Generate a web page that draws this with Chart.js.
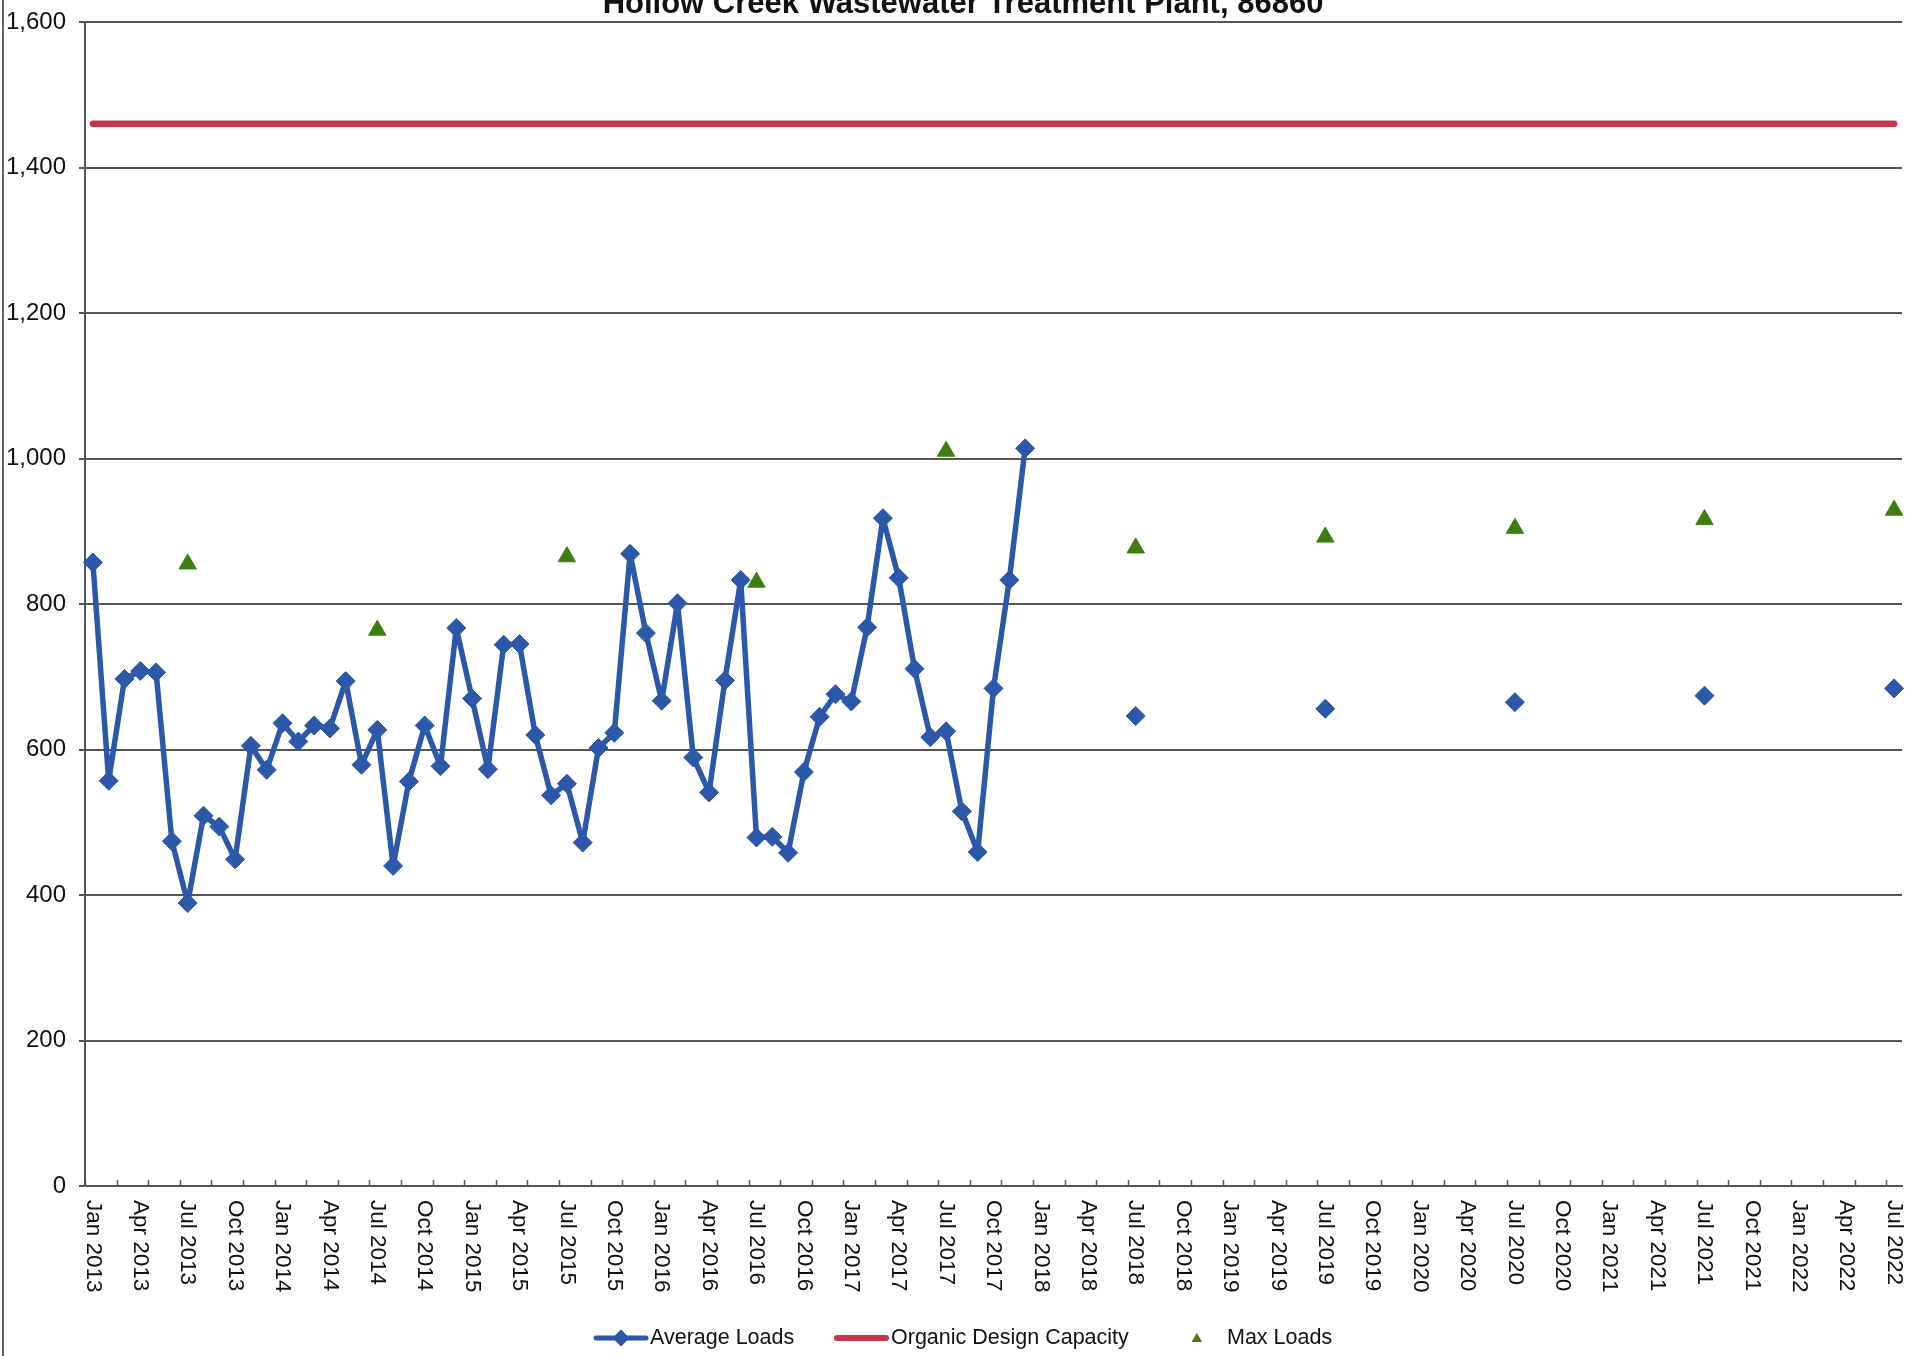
<!DOCTYPE html>
<html><head><meta charset="utf-8">
<script src="https://cdn.jsdelivr.net/npm/chart.js@4.4.0/dist/chart.umd.min.js"></script>
<style>html,body{margin:0;padding:0;background:#fff;overflow:hidden;} canvas{display:block;}</style>
</head><body>
<canvas id="c" width="1913" height="1356"></canvas>
<script>
const TITLE = 'Hollow Creek Wastewater Treatment Plant, 86860';
const MONTH_NAMES = ['Jan','Feb','Mar','Apr','May','Jun','Jul','Aug','Sep','Oct','Nov','Dec'];
const FIRST_YEAR = 2013, LAST_YEAR = 2022, LAST_MONTH_INDEX = 6;

// categories: every month Jan 2013 .. Jul 2022
const categories = [];
for (let y = FIRST_YEAR; y <= LAST_YEAR; y++) {
  for (let m = 0; m < 12; m++) {
    if (y === LAST_YEAR && m > LAST_MONTH_INDEX) break;
    categories.push(MONTH_NAMES[m] + ' ' + y);
  }
}

const tickLabels = [
  'Jan 2013','Apr 2013','Jul 2013','Oct 2013','Jan 2014','Apr 2014','Jul 2014','Oct 2014',
  'Jan 2015','Apr 2015','Jul 2015','Oct 2015','Jan 2016','Apr 2016','Jul 2016','Oct 2016',
  'Jan 2017','Apr 2017','Jul 2017','Oct 2017','Jan 2018','Apr 2018','Jul 2018','Oct 2018',
  'Jan 2019','Apr 2019','Jul 2019','Oct 2019','Jan 2020','Apr 2020','Jul 2020','Oct 2020',
  'Jan 2021','Apr 2021','Jul 2021','Oct 2021','Jan 2022','Apr 2022','Jul 2022'
];

// Average loads, monthly Jan 2013 .. Dec 2017
const avgMonthly = [
  857,557,697,708,706,474,389,509,494,449,605,572,
  636,611,633,629,694,579,627,440,556,633,577,767,
  670,573,744,745,620,537,553,472,602,623,869,760,
  667,801,589,541,695,833,479,480,458,569,645,676,
  666,768,918,836,711,617,625,515,459,684,833,1014
];
// Average loads, projected July points
const avgProjLabels = ['Jul 2018','Jul 2019','Jul 2020','Jul 2021','Jul 2022'];
const avgProjValues = [646,656,665,674,684];

// Max loads (July of each year)
const maxLabels = ['Jul 2013','Jul 2014','Jul 2015','Jul 2016','Jul 2017','Jul 2018','Jul 2019','Jul 2020','Jul 2021','Jul 2022'];
const maxValues = [855,764,865,830,1010,877,892,904,916,929];

// Organic design capacity
const designCapacity = 1460;

const yTicks = [0,200,400,600,800,1000,1200,1400,1600];

const BLUE = '#2D58AA', RED = '#C9354D', GREEN = '#3E7D12';
const FONT = '"Liberation Sans", Arial, sans-serif';

const avgData = categories.map(() => null);
avgMonthly.forEach((v, i) => { avgData[i] = v; });
avgProjLabels.forEach((l, i) => { avgData[categories.indexOf(l)] = avgProjValues[i]; });
const capData = categories.map(() => designCapacity);
const maxData = maxLabels.map((l, i) => ({ x: l, y: maxValues[i] }));

const decor = {
  id: 'decor',
  beforeDraw(chart) {
    const ctx = chart.ctx;
    ctx.save();
    ctx.fillStyle = '#fff';
    ctx.fillRect(0, 0, chart.width, chart.height);
    ctx.strokeStyle = '#666';
    ctx.lineWidth = 2;
    ctx.beginPath(); ctx.moveTo(3, 0); ctx.lineTo(3, chart.height); ctx.stroke();
    ctx.restore();
  },
  afterDraw(chart) {
    const ctx = chart.ctx, xs = chart.scales.x, area = chart.chartArea;
    ctx.save();
    // title (partly cut at top, as in reference)
    ctx.fillStyle = '#111';
    ctx.font = 'bold 31px ' + FONT;
    ctx.textAlign = 'center';
    ctx.textBaseline = 'alphabetic';
    ctx.fillText(TITLE, 963, 13);

    // x tick marks every 2 months at category boundaries (inside)
    const catW = xs.getPixelForValue(1) - xs.getPixelForValue(0);
    ctx.strokeStyle = '#555';
    ctx.lineWidth = 1.5;
    for (let k = 0; k < categories.length; k += 2) {
      const x = Math.round(xs.getPixelForValue(k) - catW / 2) + 0.5;
      ctx.beginPath(); ctx.moveTo(x, area.bottom - 6); ctx.lineTo(x, area.bottom); ctx.stroke();
    }

    // x labels rotated clockwise (reading top to bottom)
    ctx.fillStyle = '#111';
    ctx.font = '22.5px ' + FONT;
    ctx.textAlign = 'left';
    ctx.textBaseline = 'middle';
    tickLabels.forEach(l => {
      const x = xs.getPixelForValue(categories.indexOf(l));
      ctx.save();
      ctx.translate(x, area.bottom + 14);
      ctx.rotate(Math.PI / 2);
      ctx.fillText(l, 0, 0);
      ctx.restore();
    });

    // legend
    const ly = 1338;
    const ds = chart.data.datasets;
    ctx.font = '21.5px ' + FONT;
    ctx.textBaseline = 'middle';
    ctx.fillStyle = '#111';
    // Average loads
    ctx.strokeStyle = BLUE; ctx.lineWidth = 5; ctx.lineCap = 'round';
    ctx.beginPath(); ctx.moveTo(596, ly); ctx.lineTo(646, ly); ctx.stroke();
    Chart.helpers.drawPoint(ctx, { pointStyle: 'rectRot', radius: 5, borderWidth: 1 }, 621, ly);
    ctx.fillStyle = BLUE; ctx.fill();
    ctx.fillStyle = '#111';
    ctx.fillText(ds[0].label, 650, ly);
    // capacity
    ctx.strokeStyle = RED; ctx.lineWidth = 6;
    ctx.beginPath(); ctx.moveTo(837, ly); ctx.lineTo(886, ly); ctx.stroke();
    ctx.fillText(ds[1].label, 891, ly);
    // Max loads
    ctx.fillStyle = GREEN; ctx.strokeStyle = GREEN; ctx.lineWidth = 1;
    Chart.helpers.drawPoint(ctx, { pointStyle: 'triangle', radius: 5, borderWidth: 1 }, 1197, ly + 1);
    ctx.fillStyle = '#111';
    ctx.fillText(ds[2].label, 1227, ly);
    ctx.restore();
  }
};

new Chart(document.getElementById('c'), {
  type: 'line',
  data: {
    labels: categories,
    datasets: [
      {
        label: 'Average Loads',
        data: avgData,
        borderColor: BLUE, backgroundColor: BLUE,
        borderWidth: 5.5, borderJoinStyle: 'round', borderCapStyle: 'round',
        pointStyle: 'rectRot', pointRadius: 9.5, pointBorderWidth: 1,
        pointBackgroundColor: BLUE, pointBorderColor: BLUE,
        spanGaps: false, tension: 0
      },
      {
        label: 'Organic Design Capacity',
        data: capData,
        borderColor: RED, backgroundColor: RED,
        borderWidth: 6.5, pointRadius: 0, borderCapStyle: 'round'
      },
      {
        label: 'Max Loads',
        data: maxData,
        showLine: false,
        pointStyle: 'triangle', pointRadius: 10, pointBorderWidth: 1,
        pointBackgroundColor: GREEN, pointBorderColor: GREEN,
        borderColor: GREEN, backgroundColor: GREEN
      }
    ]
  },
  options: {
    responsive: false,
    animation: false,
    events: [],
    layout: { padding: { top: 22, right: 4, left: 0, bottom: 0 } },
    plugins: { legend: { display: false }, title: { display: false }, tooltip: { enabled: false } },
    scales: {
      x: {
        type: 'category',
        offset: true,
        grid: { display: true, drawOnChartArea: false, drawTicks: false },
        border: { display: true, color: '#555', width: 2 },
        ticks: { display: false },
        afterFit: s => { s.height = 170; s.paddingLeft = 0; s.paddingRight = 0; }
      },
      y: {
        min: 0, max: 1600,
        afterBuildTicks: s => { s.ticks = yTicks.map(v => ({ value: v })); },
        ticks: {
          padding: 13,
          color: '#111',
          font: { family: FONT, size: 24 },
          callback: v => Number(v).toLocaleString('en-US')
        },
        grid: { color: '#555', lineWidth: 2, tickLength: 6, drawTicks: true },
        border: { display: true, color: '#555', width: 2 },
        afterFit: s => { s.width = 85; s.paddingTop = 0; s.paddingBottom = 0; }
      }
    }
  },
  plugins: [decor]
});
</script>
</body></html>
